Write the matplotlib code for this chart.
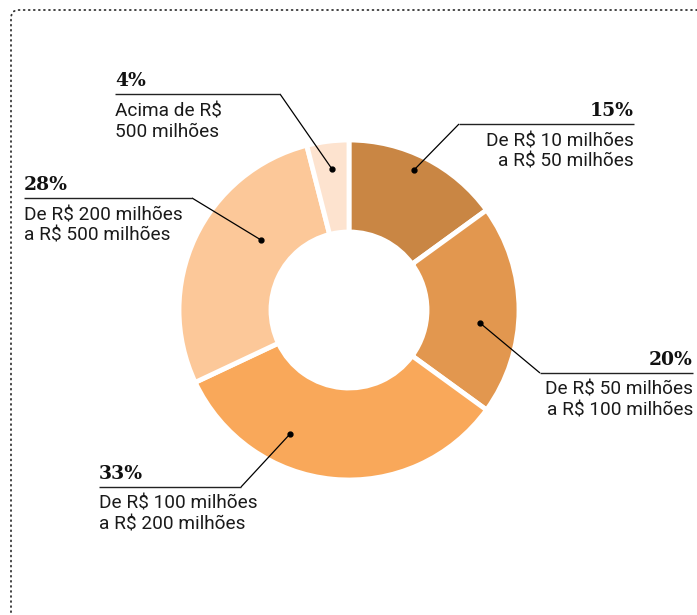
import matplotlib
matplotlib.use("Agg")
import matplotlib.pyplot as plt
from matplotlib.path import Path
from matplotlib.patches import PathPatch

# ---- data ----
categories = ["De R$ 10 milhões\na R$ 50 milhões",
              "De R$ 50 milhões\na R$ 100 milhões",
              "De R$ 100 milhões\na R$ 200 milhões",
              "De R$ 200 milhões\na R$ 500 milhões",
              "Acima de R$\n500 milhões"]
values = [15, 20, 33, 28, 4]
pct_labels = ["15%", "20%", "33%", "28%", "4%"]
colors = ["#C98644", "#E2974F", "#F9A85A", "#FCC899", "#FDE3CF"]

W, H = 697, 615
fig = plt.figure(figsize=(W / 100, H / 100), dpi=100)
ax = fig.add_axes([0, 0, 1, 1])

def Y(y):
    return H - y

ax.pie(values, colors=colors, startangle=90, counterclock=False,
       radius=170, center=(349, Y(310)),
       wedgeprops=dict(width=92, edgecolor="white", linewidth=3.5))

# label layout (pixel coords): dot, elbow, line end, alignment
layout = [
    dict(dot=(414, 170), elbow=(459, 124), end=(634, 124), ha="right"),
    dict(dot=(480, 323), elbow=(540, 373), end=(693, 373), ha="right"),
    dict(dot=(290, 434), elbow=(241, 487), end=(99, 487), ha="left"),
    dict(dot=(261, 240), elbow=(192, 198), end=(24, 198), ha="left"),
    dict(dot=(332, 169), elbow=(280, 94), end=(115, 94), ha="left"),
]

for cat, pct, lay in zip(categories, pct_labels, layout):
    dx, dy = lay["dot"]
    ex, ey = lay["elbow"]
    lx, ly = lay["end"]
    ax.plot([dx, ex], [Y(dy), Y(ey)], color="black", lw=0.9, solid_capstyle="butt")
    ax.plot([ex, lx], [Y(ey), Y(ly)], color="#222222", lw=1.0, solid_capstyle="butt")
    ax.plot([dx], [Y(dy)], "o", color="black", ms=3.5)
    tx = lx
    ax.text(tx, Y(ly - 4), pct, ha=lay["ha"], va="bottom",
            fontfamily="DejaVu Serif", fontweight="bold", fontsize=13.5, color="#111111")
    ax.text(tx, Y(ly + 8), cat, ha=lay["ha"], va="top",
            fontfamily="Roboto", fontsize=13.7, color="#1a1a1a", linespacing=1.2,
            multialignment=lay["ha"])

# dotted border with rounded top-left corner
r = 8
verts = [(W, Y(10)), (11 + r, Y(10)), (11, Y(10)), (11, Y(10 + r)), (11, 0)]
codes = [Path.MOVETO, Path.LINETO, Path.CURVE3, Path.CURVE3, Path.LINETO]
ax.add_patch(PathPatch(Path(verts, codes), fill=False, edgecolor="#333333",
                       lw=1.3, linestyle=(0, (0.5, 2.3)), capstyle="round"))

ax.set_xlim(0, W)
ax.set_ylim(0, H)
ax.set_aspect("auto")
ax.axis("off")
fig.savefig("out.png", dpi=100, facecolor="white")
